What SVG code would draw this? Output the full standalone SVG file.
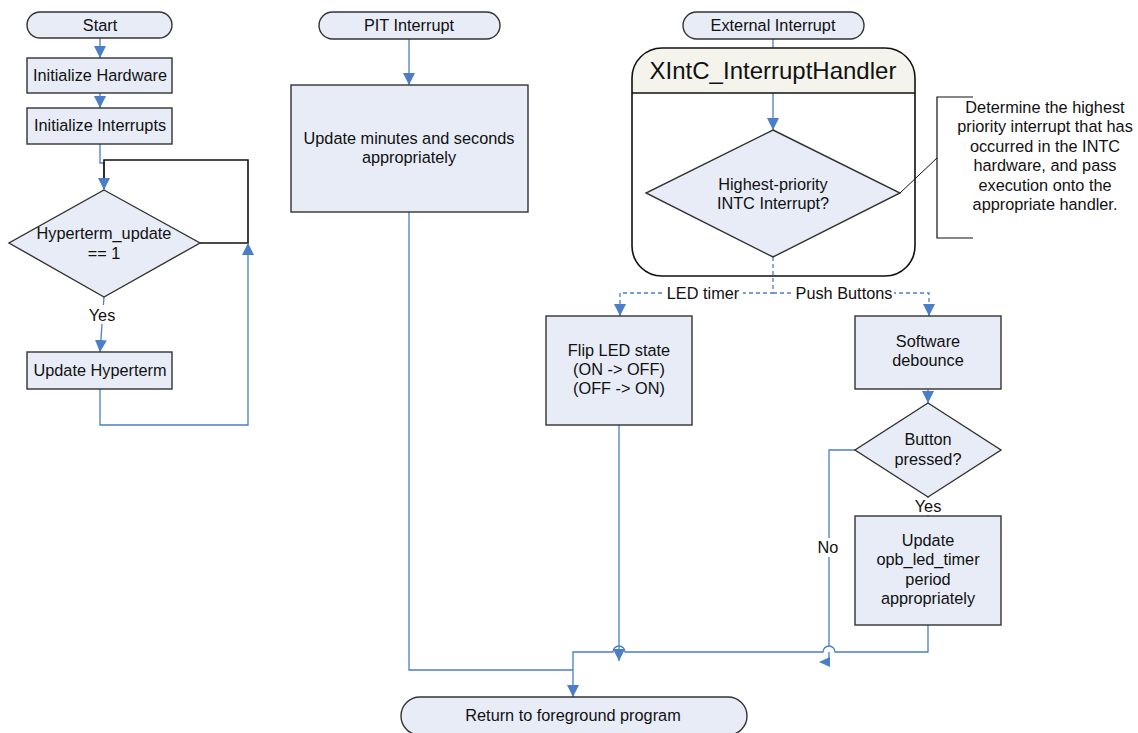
<svg xmlns="http://www.w3.org/2000/svg" width="1138" height="733" viewBox="0 0 1138 733">
<defs>
<marker id="ah" viewBox="0 0 10 10" refX="10" refY="5" markerWidth="12" markerHeight="12" markerUnits="userSpaceOnUse" orient="auto">
<path d="M0,0 L10,5 L0,10 Z" fill="#4A7EC7"/>
</marker>
<style>
.box{fill:#E7ECF7;stroke:#333;stroke-width:1.4}
.t{font-family:"Liberation Sans",Arial,sans-serif;font-size:16.3px;fill:#111;text-anchor:middle}
.c{fill:none;stroke:#4A7EC7;stroke-width:1.3}
.d{fill:none;stroke:#4A7EC7;stroke-width:1.3;stroke-dasharray:4,3}
.k{fill:none;stroke:#111;stroke-width:1.6}
.lb{fill:#fff}
</style>
</defs>
<rect width="1138" height="733" fill="#fff"/>

<g id="connectors">
<path class="c" d="M100,38 V58" marker-end="url(#ah)"/>
<path class="c" d="M100,93 V108" marker-end="url(#ah)"/>
<path class="c" d="M100,144 V163 H104 V190" marker-end="url(#ah)"/>
<path class="k" d="M200,243 H248 V160 H104 V178"/>
<path class="c" d="M104,297 L100,352" marker-end="url(#ah)"/>
<path class="c" d="M100,389 V425 H248 V243" marker-end="url(#ah)"/>
<path class="c" d="M409,39 V85" marker-end="url(#ah)"/>
<path class="c" d="M409,212 V670 H573"/>
<path class="c" d="M773,39 V48"/>
<path class="c" d="M773,93 V130" marker-end="url(#ah)"/>
<path class="d" d="M773,257 V293 H620 V316" marker-end="url(#ah)"/>
<path class="d" d="M773,293 H929 V316" marker-end="url(#ah)"/>
<path class="c" d="M928,389 V403" marker-end="url(#ah)"/>
<path class="c" d="M928,497 V516" marker-end="url(#ah)"/>
<path class="c" d="M619,425 V661" marker-end="url(#ah)"/>
<path class="c" d="M855,450 H829 V646"/>
<path class="c" d="M829,652 V658"/>
<path d="M830,657 L819,662 L830,667 Z" fill="#4A7EC7"/>
<path class="c" d="M928,625 V652 H835 A6,6 0 0 0 823,652 H625 A6,6 0 0 0 613,652 H573 V697" marker-end="url(#ah)"/>
<rect class="lb" x="86" y="305" width="34" height="19"/>
<text class="t" x="102" y="321">Yes</text>
<rect class="lb" x="663" y="284" width="80" height="18"/>
<text class="t" x="703" y="299">LED timer</text>
<rect class="lb" x="794" y="284" width="100" height="18"/>
<text class="t" x="844" y="299">Push Buttons</text>
<rect class="lb" x="912" y="498" width="34" height="17"/>
<text class="t" x="928" y="512">Yes</text>
<rect class="lb" x="815" y="538" width="28" height="19"/>
<text class="t" x="828" y="553">No</text>
<path fill="none" stroke="#111" stroke-width="1" d="M900,193 L937,158"/>
<path fill="none" stroke="#111" stroke-width="1.2" d="M973,97 H937 V238 H973"/>
</g>

<g id="start">
<rect class="box" x="27" y="12" width="145" height="26" rx="13"/>
<text class="t" x="100" y="31">Start</text>
</g>
<g id="init-hw">
<rect class="box" x="27" y="58" width="145" height="35"/>
<text class="t" x="100" y="81">Initialize Hardware</text>
</g>
<g id="init-int">
<rect class="box" x="27" y="108" width="145" height="36"/>
<text class="t" x="100" y="131">Initialize Interrupts</text>
</g>
<g id="hyper-dec">
<polygon class="box" points="104,190 200,243 104,297 9,243"/>
<text class="t" x="104" y="239">Hyperterm_update</text>
<text class="t" x="104" y="259">== 1</text>
</g>
<g id="update-hyper">
<rect class="box" x="27" y="352" width="145" height="37"/>
<text class="t" x="100" y="376">Update Hyperterm</text>
</g>

<g id="pit">
<rect class="box" x="319" y="12" width="181" height="27" rx="13.5"/>
<text class="t" x="409" y="31">PIT Interrupt</text>
</g>
<g id="update-min">
<rect class="box" x="291" y="85" width="237" height="127"/>
<text class="t" x="409" y="144">Update minutes and seconds</text>
<text class="t" x="409" y="163">appropriately</text>
</g>

<g id="ext">
<rect class="box" x="683" y="12" width="181" height="27" rx="13.5"/>
<text class="t" x="773" y="31">External Interrupt</text>
</g>
<g id="handler">
<path d="M662,48 H885 A30,30 0 0 1 915,78 V93 H632 V78 A30,30 0 0 1 662,48 Z" fill="#F4F4EC"/>
<rect x="632" y="48" width="283" height="228" rx="30" fill="none" stroke="#111" stroke-width="1.6"/>
<line x1="632" y1="93" x2="915" y2="93" stroke="#111" stroke-width="1.6"/>
<text x="773" y="79" font-family="Liberation Sans, Arial, sans-serif" font-size="24" fill="#111" text-anchor="middle">XIntC_InterruptHandler</text>
</g>
<g id="prio-dec">
<polygon class="box" points="773,130 900,193 773,257 646,193"/>
<text class="t" x="773" y="190">Highest-priority</text>
<text class="t" x="773" y="209">INTC Interrupt?</text>
</g>
<g id="note">
<text class="t" x="1045" y="113">Determine the highest</text>
<text class="t" x="1045" y="132">priority interrupt that has</text>
<text class="t" x="1045" y="152">occurred in the INTC</text>
<text class="t" x="1045" y="171">hardware, and pass</text>
<text class="t" x="1045" y="191">execution onto the</text>
<text class="t" x="1045" y="210">appropriate handler.</text>
</g>
<g id="flip-led">
<rect class="box" x="546" y="316" width="146" height="109"/>
<text class="t" x="619" y="356">Flip LED state</text>
<text class="t" x="619" y="375">(ON -&gt; OFF)</text>
<text class="t" x="619" y="394">(OFF -&gt; ON)</text>
</g>
<g id="debounce">
<rect class="box" x="855" y="316" width="146" height="73"/>
<text class="t" x="928" y="347">Software</text>
<text class="t" x="928" y="366">debounce</text>
</g>
<g id="btn-dec">
<polygon class="box" points="928,403 1001,450 928,497 855,450"/>
<text class="t" x="928" y="445">Button</text>
<text class="t" x="928" y="465">pressed?</text>
</g>
<g id="update-timer">
<rect class="box" x="855" y="516" width="146" height="109"/>
<text class="t" x="928" y="546">Update</text>
<text class="t" x="928" y="565">opb_led_timer</text>
<text class="t" x="928" y="585">period</text>
<text class="t" x="928" y="604">appropriately</text>
</g>
<g id="return">
<rect class="box" x="401" y="697" width="346" height="38" rx="19"/>
<text class="t" x="573" y="721">Return to foreground program</text>
</g>
</svg>
